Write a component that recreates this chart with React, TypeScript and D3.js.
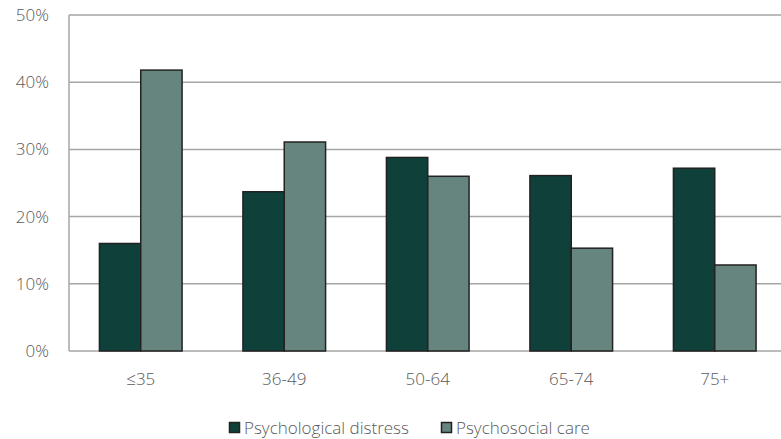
import React, { useEffect, useRef } from 'react'
import * as d3 from 'd3'

const ageGroups = ['≤35', '36-49', '50-64', '65-74', '75+']
const seriesNames = ['Psychological distress', 'Psychosocial care']
const distress = [16.0, 23.7, 28.8, 26.1, 27.2]
const care = [41.8, 31.1, 26.0, 15.3, 12.8]
const yTicks = [0, 10, 20, 30, 40, 50]
const colors = ['#10403a', '#66857e']

export default function App() {
  const svgRef = useRef<SVGSVGElement>(null)

  useEffect(() => {
    const svg = d3.select(svgRef.current)
    svg.selectAll('*').remove()

    const width = 781
    const height = 439
    const margin = { left: 69, top: 15, bottom: 88 }
    const plotRight = 786.5
    const font = '"Open Sans", "Noto Sans", sans-serif'
    const fontSize = '17px'
    const fontWeight = 300

    svg.attr('width', width).attr('height', height)

    const x = d3.scaleBand<string>()
      .domain(ageGroups)
      .range([margin.left, plotRight])
      .paddingInner(0.424)
      .paddingOuter(0.212)

    const x1 = d3.scaleBand<string>()
      .domain(seriesNames)
      .range([0, x.bandwidth()])

    const y = d3.scaleLinear()
      .domain([0, 50])
      .range([height - margin.bottom, margin.top])

    // gridlines
    svg.append('g')
      .selectAll('line')
      .data(yTicks)
      .enter()
      .append('line')
      .attr('x1', margin.left)
      .attr('x2', plotRight)
      .attr('y1', d => y(d))
      .attr('y2', d => y(d))
      .style('stroke', '#a6a6a6')
      .style('stroke-width', 1.5)

    // left axis line
    svg.append('line')
      .attr('x1', margin.left)
      .attr('x2', margin.left)
      .attr('y1', y(50))
      .attr('y2', y(0))
      .style('stroke', '#a6a6a6')
      .style('stroke-width', 1.5)

    // y labels
    svg.append('g')
      .selectAll('text')
      .data(yTicks)
      .enter()
      .append('text')
      .attr('x', 49)
      .attr('y', d => y(d))
      .attr('dy', '0.35em')
      .attr('text-anchor', 'end')
      .style('font-family', font)
      .style('font-size', fontSize)
      .style('font-weight', fontWeight)
      .style('fill', '#595959')
      .text(d => `${d}%`)

    // bars
    const seriesData = [distress, care]
    const groups = svg.append('g')
      .selectAll('g')
      .data(ageGroups)
      .enter()
      .append('g')
      .attr('transform', d => `translate(${x(d)},0)`)

    groups.selectAll('rect')
      .data((d, i) => seriesNames.map((s, si) => ({ s, si, v: seriesData[si][i] })))
      .enter()
      .append('rect')
      .attr('x', d => x1(d.s) as number)
      .attr('width', x1.bandwidth())
      .attr('y', d => y(d.v))
      .attr('height', d => y(0) - y(d.v))
      .style('fill', d => colors[d.si])
      .style('stroke', '#222')
      .style('stroke-width', 1.5)

    // x labels
    svg.append('g')
      .selectAll('text')
      .data(ageGroups)
      .enter()
      .append('text')
      .attr('x', d => (x(d) as number) + x.bandwidth() / 2)
      .attr('y', 379)
      .attr('dy', '0.35em')
      .attr('text-anchor', 'middle')
      .style('font-family', font)
      .style('font-size', fontSize)
      .style('font-weight', fontWeight)
      .style('fill', '#595959')
      .text(d => d)

    // legend
    const legendX = [229, 441]
    const legend = svg.append('g')
      .selectAll('g')
      .data(seriesNames)
      .enter()
      .append('g')
      .attr('transform', (d, i) => `translate(${legendX[i]},428)`)

    legend.append('rect')
      .attr('x', 0.5)
      .attr('y', -5.5)
      .attr('width', 10)
      .attr('height', 10)
      .style('fill', (d, i) => colors[i])
      .style('stroke', '#222')
      .style('stroke-width', 1.5)

    legend.append('text')
      .attr('x', 15)
      .attr('y', 0)
      .attr('dy', '0.35em')
      .style('font-family', font)
      .style('font-size', fontSize)
      .style('font-weight', fontWeight)
      .style('fill', '#595959')
      .text(d => d)
  }, [])

  return (
    <div style={{ position: 'absolute', left: 0, top: 0, width: 781, height: 439, overflow: 'hidden', background: '#fff' }}>
      <svg ref={svgRef} style={{ display: 'block' }} />
    </div>
  )
}
